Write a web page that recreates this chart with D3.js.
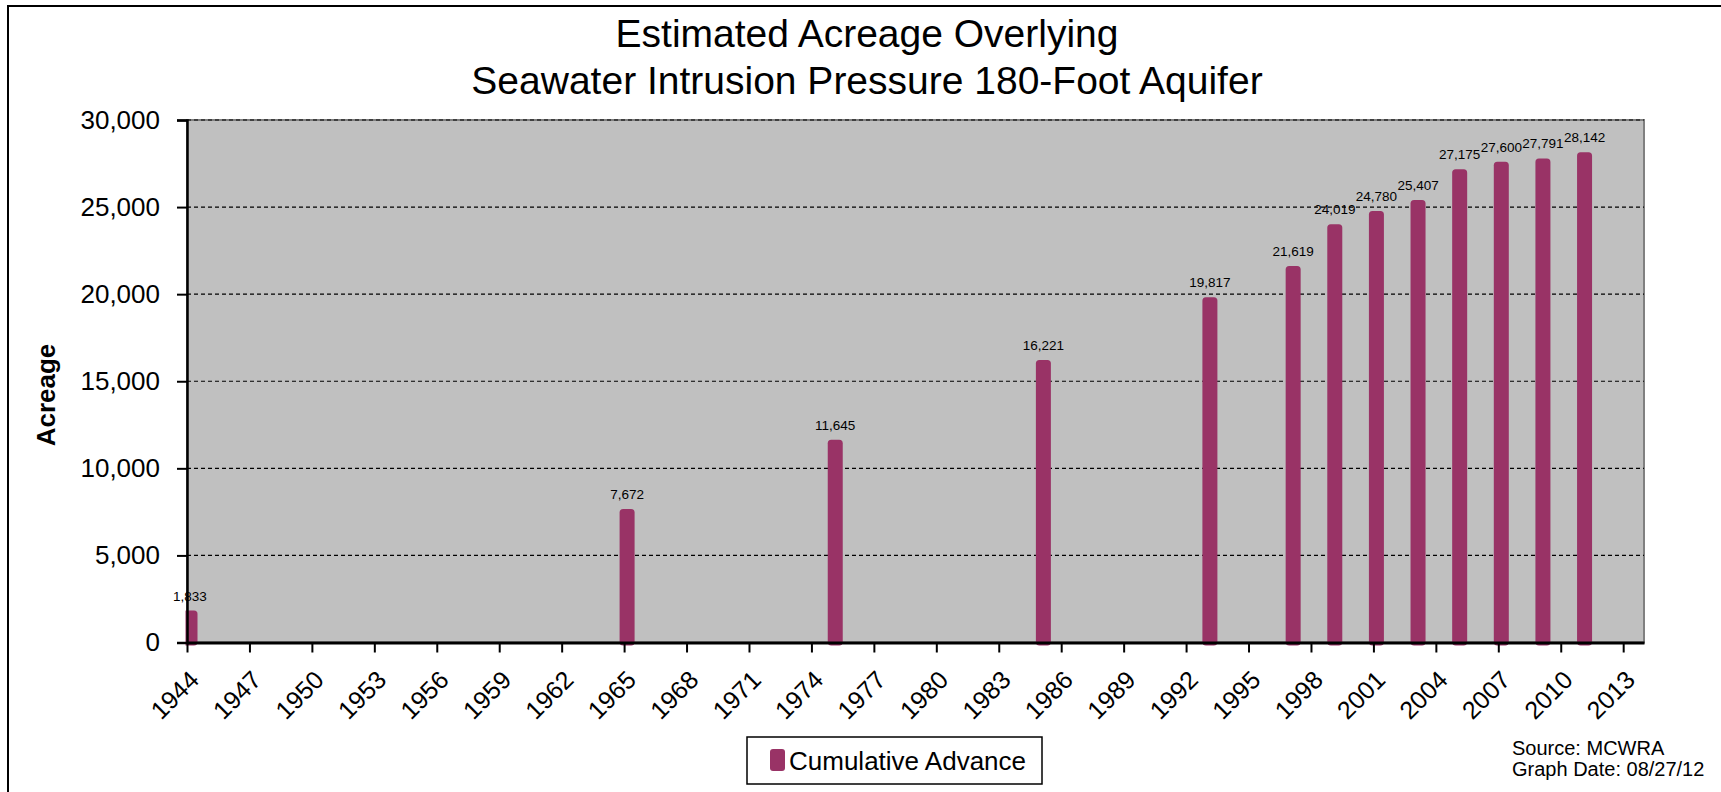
<!DOCTYPE html>
<html>
<head>
<meta charset="utf-8">
<script src="https://cdn.jsdelivr.net/npm/d3@7"></script>
<style>
  body { margin: 0; background: #fff; }
  svg { display: block; font-family: "Liberation Sans", Arial, sans-serif; }
</style>
</head>
<body>
<svg id="chart"></svg>
<script>
// data
var years  = [1944, 1965, 1975, 1985, 1993, 1997, 1999, 2001, 2003, 2005, 2007, 2009, 2011];
var acres  = [1833, 7672, 11645, 16221, 19817, 21619, 24019, 24780, 25407, 27175, 27600, 27791, 28142];
var yTicks = [0, 5000, 10000, 15000, 20000, 25000, 30000];
var xTicks = d3.range(1944, 2014, 3);
var titleLines = ["Estimated Acreage Overlying", "Seawater Intrusion Pressure 180-Foot Aquifer"];
var seriesName = "Cumulative Advance";
var notes = ["Source: MCWRA", "Graph Date: 08/27/12"];

var W = 1721, H = 792;
var plot = {left: 187, right: 1644, top: 120, bottom: 642.5};
var barColor = "#993366";

var svg = d3.select("#chart").attr("width", W).attr("height", H);

// outer frame (runs off the right and bottom)
svg.append("rect")
  .attr("x", 8).attr("y", 6)
  .attr("width", W + 20).attr("height", H + 20)
  .attr("fill", "#fff").attr("stroke", "#000").attr("stroke-width", 2);

// title
svg.append("g").selectAll("text")
  .data(titleLines).enter().append("text")
  .attr("x", 867)
  .attr("y", function (d, i) { return 47 + i * 47; })
  .attr("text-anchor", "middle")
  .attr("font-size", 39)
  .text(function (d) { return d; });

var x = d3.scaleLinear().domain([1944, 2014]).range([plot.left, plot.right]);
var y = d3.scaleLinear().domain([0, 30000]).range([plot.bottom, plot.top]);

// plot background
svg.append("rect")
  .attr("x", plot.left).attr("y", plot.top)
  .attr("width", plot.right - plot.left).attr("height", plot.bottom - plot.top)
  .attr("fill", "#c0c0c0").attr("stroke", "#808080").attr("stroke-width", 2);

// dashed gridlines
svg.append("g").selectAll("line")
  .data(yTicks.filter(function (d) { return d > 0; })).enter().append("line")
  .attr("x1", plot.left).attr("x2", plot.right)
  .attr("y1", function (d) { return y(d); }).attr("y2", function (d) { return y(d); })
  .attr("stroke", "#000").attr("stroke-width", 1.2)
  .attr("stroke-dasharray", "4,3");

// bars, the first one is cut by the y axis
svg.append("clipPath").attr("id", "clip")
  .append("rect")
  .attr("x", plot.left - 1.5).attr("y", plot.top - 5)
  .attr("width", plot.right - plot.left).attr("height", plot.bottom - plot.top + 10);

var bw = 15;
var bars = svg.append("g").attr("clip-path", "url(#clip)");
bars.selectAll("rect")
  .data(years).enter().append("rect")
  .attr("x", function (d) { return x(d) + 3 - bw / 2; })
  .attr("y", function (d, i) { return y(acres[i]); })
  .attr("width", bw)
  .attr("height", function (d, i) { return y(0) - y(acres[i]) + 3; })
  .attr("rx", 3.5)
  .attr("fill", barColor);

// value labels
svg.append("g").selectAll("text")
  .data(years).enter().append("text")
  .attr("x", function (d) { return Math.max(x(d) + 3, plot.left + 3); })
  .attr("y", function (d, i) { return y(acres[i]) - 10; })
  .attr("text-anchor", "middle")
  .attr("font-size", 13.5)
  .text(function (d, i) { return d3.format(",")(acres[i]); });

// y axis
var yAxis = d3.axisLeft(y).tickValues(yTicks).tickFormat(d3.format(",")).tickSize(10).tickPadding(17);
var gy = svg.append("g")
  .attr("transform", "translate(" + plot.left + ",0)")
  .call(yAxis);
gy.select(".domain").attr("stroke-width", 2.5);
gy.selectAll(".tick line").attr("stroke-width", 2);
gy.selectAll(".tick text")
  .attr("font-family", "Liberation Sans, Arial, sans-serif")
  .attr("font-size", 26).attr("fill", "#000");

// x axis
var xAxis = d3.axisBottom(x).tickValues(xTicks).tickFormat(d3.format("d")).tickSize(10).tickSizeOuter(0);
var gx = svg.append("g")
  .attr("transform", "translate(0," + plot.bottom + ")")
  .call(xAxis);
gx.select(".domain").attr("stroke-width", 3);
gx.selectAll(".tick line").attr("stroke-width", 2);
gx.selectAll(".tick text")
  .attr("font-family", "Liberation Sans, Arial, sans-serif")
  .attr("font-size", 25).attr("fill", "#000")
  .attr("text-anchor", "end")
  .attr("dy", null)
  .attr("y", null)
  .attr("transform", "translate(13,39) rotate(-45)");

// y axis title
svg.append("text")
  .attr("transform", "translate(55,395) rotate(-90)")
  .attr("text-anchor", "middle")
  .attr("font-size", 26).attr("font-weight", "bold")
  .text("Acreage");

// legend
var lg = svg.append("g");
lg.append("rect")
  .attr("x", 747).attr("y", 737).attr("width", 295).attr("height", 47)
  .attr("fill", "#fff").attr("stroke", "#000").attr("stroke-width", 1.5);
lg.append("rect")
  .attr("x", 770).attr("y", 749).attr("width", 15).attr("height", 22).attr("rx", 3)
  .attr("fill", barColor);
lg.append("text")
  .attr("x", 789).attr("y", 770)
  .attr("font-size", 26)
  .text(seriesName);

// source note
svg.append("g").selectAll("text")
  .data(notes).enter().append("text")
  .attr("x", 1512)
  .attr("y", function (d, i) { return 755 + i * 21; })
  .attr("font-size", 20)
  .text(function (d) { return d; });
</script>
</body>
</html>
